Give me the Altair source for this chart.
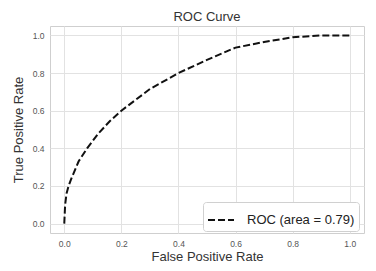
import altair as alt
import pandas as pd

fpr = [0.0, 0.003, 0.008, 0.015, 0.025, 0.05, 0.08, 0.12, 0.16, 0.2, 0.3, 0.4, 0.5, 0.6, 0.7, 0.8, 0.9, 1.0]
tpr = [0.0, 0.10, 0.16, 0.20, 0.24, 0.33, 0.40, 0.48, 0.545, 0.60, 0.715, 0.80, 0.87, 0.935, 0.965, 0.99, 1.0, 1.0]
series = "ROC (area = 0.79)"

df = pd.DataFrame({"fpr": fpr, "tpr": tpr, "s": [series] * len(fpr)})
ticks = [0.0, 0.2, 0.4, 0.6, 0.8, 1.0]
FONT = "Liberation Sans"

chart = alt.Chart(df).mark_line(strokeDash=[7, 3], strokeWidth=2).encode(
    x=alt.X("fpr:Q", title="False Positive Rate",
            scale=alt.Scale(domain=[-0.05, 1.05], nice=False, zero=False),
            axis=alt.Axis(values=ticks, format=".1f", labelPadding=6, titlePadding=3,
                          titleFontWeight="normal")),
    y=alt.Y("tpr:Q", title="True Positive Rate",
            scale=alt.Scale(domain=[-0.05, 1.05], nice=False, zero=False),
            axis=alt.Axis(values=ticks, format=".1f", labelPadding=6, titlePadding=7,
                          titleFontWeight="normal")),
    color=alt.Color("s:N", scale=alt.Scale(range=["#111111"]),
                    legend=alt.Legend(title=None, orient="none", legendX=153, legendY=176)),
    order="fpr:Q",
).properties(
    width=314, height=207,
    background="white",
    title=alt.TitleParams("ROC Curve", fontSize=13, font=FONT, fontWeight="normal",
                          color="#333333", offset=2),
    autosize=alt.AutoSizeParams(type="none"),
    padding={"left": 42, "top": 18, "right": 4, "bottom": 30},
).configure_view(
    stroke="#cfcfcf", strokeWidth=1
).configure_axis(
    domain=False, ticks=False, grid=True, gridColor="#e2e2e2", gridWidth=1,
    labelFont=FONT, labelFontSize=8.5, labelColor="#555555",
    titleFont=FONT, titleFontSize=13, titleFontWeight="normal", titleColor="#333333",
).configure_legend(
    symbolType="stroke", symbolDash=[7, 3], symbolStrokeWidth=2, symbolSize=676,
    labelFont=FONT, labelFontSize=13, labelColor="#222222",
    strokeColor="#d0d0d0", fillColor="white", padding=4, cornerRadius=3,
    labelOffset=12,
)

chart.save("out.html", embed_options={"renderer": "svg", "actions": False})
